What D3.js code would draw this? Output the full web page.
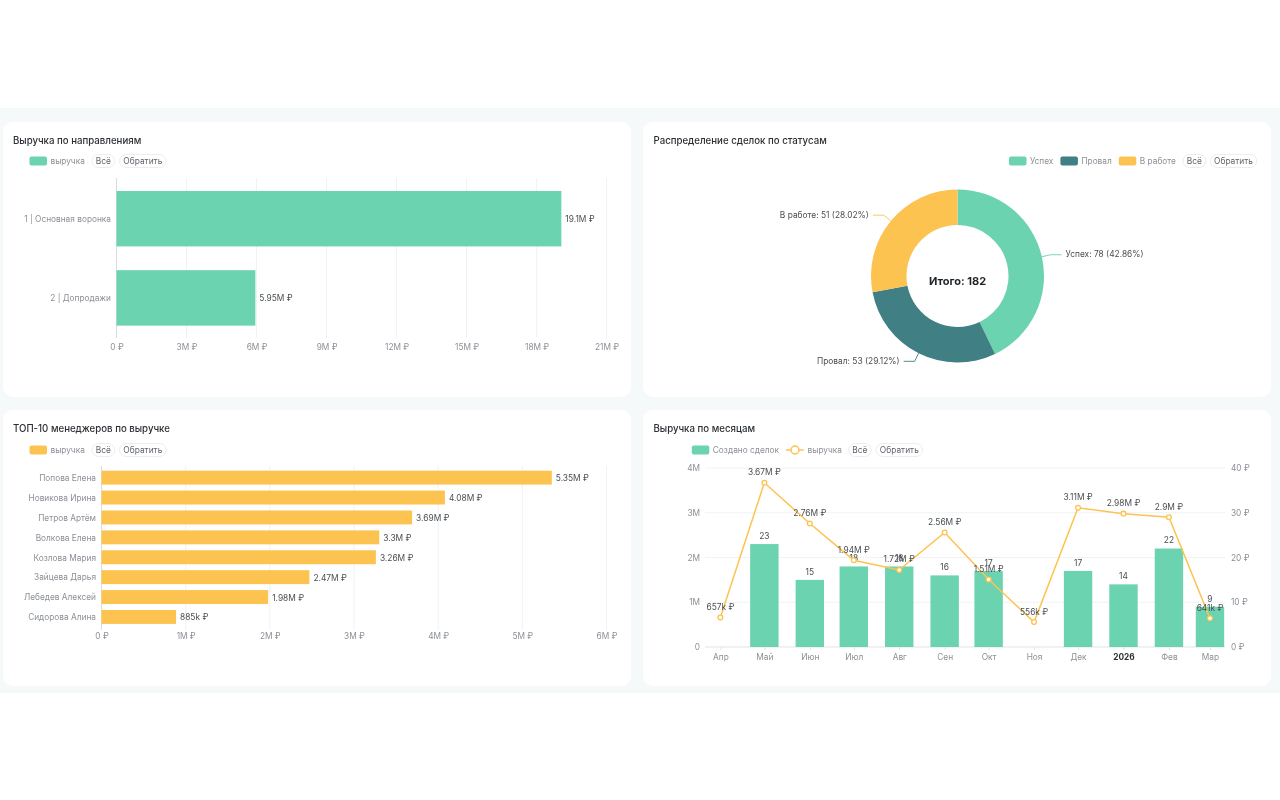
<!DOCTYPE html>
<html>
<head>
<meta charset="utf-8">
<script src="https://cdn.jsdelivr.net/npm/d3@7"></script>
<style>
  html, body { margin: 0; padding: 0; background: #fff; }
  svg { display: block; font-family: Inter, "Noto Sans", sans-serif; filter: blur(0.3px); }
  .title { font-size: 9.66px; font-weight: 500; fill: #2b2f33; }
  .legend-text { font-size: 8.3px; fill: #8b9096; }
  .btn-text { font-size: 8.4px; fill: #60656b; }
  .tick-label, .tick text { font-size: 8.3px; fill: #8b9096; font-family: Inter, "Noto Sans", sans-serif; }
  .value { font-size: 8.4px; fill: #4a4e52; }
</style>
</head>
<body>
<svg id="chart" width="1280" height="800"></svg>
<script>
// data
const directionNames = ["1 | Основная воронка", "2 | Допродажи"];
const directionRevenue = [19060000, 5950000];
const directionTicks = [0, 3e6, 6e6, 9e6, 12e6, 15e6, 18e6, 21e6];

const statusNames = ["Успех", "Провал", "В работе"];
const statusCounts = [78, 53, 51];
const statusShares = ["42.86", "29.12", "28.02"];

const managerNames = ["Попова Елена", "Новикова Ирина", "Петров Артём", "Волкова Елена",
  "Козлова Мария", "Зайцева Дарья", "Лебедев Алексей", "Сидорова Алина"];
const managerRevenue = [5350000, 4080000, 3690000, 3300000, 3260000, 2470000, 1980000, 885000];
const managerTicks = [0, 1e6, 2e6, 3e6, 4e6, 5e6, 6e6];

const monthDates = ["2025-04-01", "2025-05-01", "2025-06-01", "2025-07-01", "2025-08-01", "2025-09-01",
  "2025-10-01", "2025-11-01", "2025-12-01", "2026-01-01", "2026-02-01", "2026-03-01"].map(d => new Date(d + "T00:00:00Z"));
const monthLabels = ["Апр", "Май", "Июн", "Июл", "Авг", "Сен", "Окт", "Ноя", "Дек", "2026", "Фев", "Мар"];
const monthDeals = [null, 23, 15, 18, 18, 16, 17, null, 17, 14, 22, 9];
const monthRevenue = [657000, 3670000, 2760000, 1940000, 1720000, 2560000, 1510000, 556000, 3110000, 2980000, 2900000, 641000];
const revenueTicks = [0, 1e6, 2e6, 3e6, 4e6];
const dealTicks = [0, 10, 20, 30, 40];

const green = "#6bd3b0", teal = "#407f83", yellow = "#fdc350";
const grid = "#f0f2f4";
const money = v => v === 0 ? "0 ₽" : d3.format(".3~s")(v) + " ₽";

const svg = d3.select("#chart");

// page band and cards
svg.append("rect").attr("x", 0).attr("y", 108).attr("width", 1280).attr("height", 585).attr("fill", "#f6f9fa");
[[3, 122, 628, 275], [643, 122, 628, 275], [3, 410, 628, 276], [643, 410, 628, 276]].forEach(c => {
  svg.append("rect").attr("x", c[0]).attr("y", c[1]).attr("width", c[2]).attr("height", c[3])
    .attr("rx", 10).attr("fill", "#fff");
});

function title(x, y, text) {
  svg.append("text").attr("class", "title").attr("x", x).attr("y", y).attr("dy", "0.35em").text(text);
}
function swatch(x, y, color, label) {
  svg.append("rect").attr("x", x).attr("y", y - 4.5).attr("width", 17.5).attr("height", 9).attr("rx", 2).attr("fill", color);
  svg.append("text").attr("class", "legend-text").attr("x", x + 21).attr("y", y).attr("dy", "0.35em").text(label);
}
function buttons(x1, x2, y) {
  [[x1, 22.7, "Всё"], [x2, 46.5, "Обратить"]].forEach(b => {
    svg.append("rect").attr("x", b[0]).attr("y", y - 6.5).attr("width", b[1]).attr("height", 13).attr("rx", 6.5)
      .attr("fill", "#fff").attr("stroke", "#e6e8ea").attr("stroke-width", 0.8);
    svg.append("text").attr("class", "btn-text").attr("x", b[0] + b[1] / 2).attr("y", y).attr("dy", "0.35em")
      .attr("text-anchor", "middle").text(b[2]);
  });
}

// horizontal bars, shared by the two left panels
function hbars(o) {
  const x = d3.scaleLinear().domain([0, o.ticks[o.ticks.length - 1]]).range(o.xr);
  const y = d3.scaleBand().domain(o.names).range(o.yr).paddingInner(0.3).paddingOuter(o.outer);
  const g = svg.append("g");
  g.append("g").selectAll("line").data(o.ticks).join("line")
    .attr("x1", d => x(d)).attr("x2", d => x(d)).attr("y1", o.gy[0]).attr("y2", o.gy[1])
    .attr("stroke", d => d === 0 ? "#d9dcdf" : grid);
  g.selectAll("rect").data(o.values).join("rect")
    .attr("x", x(0)).attr("y", (d, i) => y(o.names[i]))
    .attr("width", d => x(d) - x(0)).attr("height", y.bandwidth()).attr("fill", o.color);
  g.selectAll(".value").data(o.values).join("text").attr("class", "value")
    .attr("x", d => x(d) + 4).attr("y", (d, i) => y(o.names[i]) + y.bandwidth() / 2 + 0.6).attr("dy", "0.35em")
    .text(money);
  const yAxis = g.append("g").attr("transform", `translate(${x(0)},0.6)`).call(d3.axisLeft(y).tickSize(0).tickPadding(5.5));
  yAxis.select(".domain").remove();
  const xAxis = g.append("g").attr("transform", `translate(0,${o.gy[1]})`)
    .call(d3.axisBottom(x).tickValues(o.ticks).tickFormat(money).tickSize(0).tickPadding(o.tickPad));
  xAxis.select(".domain").remove();
}

title(13, 141, "Выручка по направлениям");
swatch(29.5, 161, green, "выручка");
buttons(92, 119.6, 161);
hbars({ names: directionNames, values: directionRevenue, ticks: directionTicks, color: green,
  xr: [116.5, 606.6], yr: [178.3, 338.3], outer: 0.16, gy: [178, 338], tickPad: 6.5 });

title(13, 429, "ТОП-10 менеджеров по выручке");
swatch(29.5, 450, yellow, "выручка");
buttons(92, 119.6, 450);
hbars({ names: managerNames, values: managerRevenue, ticks: managerTicks, color: yellow,
  xr: [101.5, 606.5], yr: [467.7, 626.9], outer: 0.15, gy: [466, 630], tickPad: 3 });

// donut
title(653.5, 141, "Распределение сделок по статусам");
swatch(1009, 161, green, "Успех");
swatch(1060.4, 161, teal, "Провал");
swatch(1118.8, 161, yellow, "В работе");
buttons(1183, 1210.3, 161);

const statusColors = [green, teal, yellow];
const cx = 957.5, cy = 276, outerR = 86.5, innerR = 51;
const pieData = d3.pie().sort(null)(statusCounts);
const arc = d3.arc().innerRadius(innerR).outerRadius(outerR);
const donut = svg.append("g").attr("transform", `translate(${cx},${cy})`);
donut.selectAll("path.slice").data(pieData).join("path").attr("class", "slice").attr("d", arc)
  .attr("fill", (d, i) => statusColors[i]);
pieData.forEach((d, i) => {
  const a = (d.startAngle + d.endAngle) / 2;
  const px = r => Math.sin(a) * r, py = r => -Math.cos(a) * r;
  const dir = px(1) > 0 ? 1 : -1;
  const bend = [px(outerR + 9), py(outerR + 9)];
  const end = [bend[0] + dir * 11, bend[1]];
  donut.append("polyline").attr("fill", "none").attr("stroke", statusColors[i]).attr("stroke-width", 0.9)
    .attr("points", [[px(outerR), py(outerR)], bend, end].join(" "));
  donut.append("text").attr("class", "value").attr("x", end[0] + dir * 4).attr("y", end[1] - 0.6).attr("dy", "0.35em")
    .attr("text-anchor", dir > 0 ? "start" : "end")
    .text(`${statusNames[i]}: ${statusCounts[i]} (${statusShares[i]}%)`);
});
svg.append("text").attr("x", cx).attr("y", 281).attr("dy", "0.35em").attr("text-anchor", "middle")
  .attr("font-size", 11).attr("font-weight", 700).attr("fill", "#1f2326")
  .text("Итого: " + d3.sum(statusCounts));

// monthly combo: bars on the right axis, line on the left one
title(653.5, 429, "Выручка по месяцам");
swatch(691.8, 450, green, "Создано сделок");
svg.append("line").attr("x1", 786).attr("x2", 803.7).attr("y1", 450).attr("y2", 450).attr("stroke", yellow).attr("stroke-width", 1.5);
svg.append("circle").attr("cx", 795).attr("cy", 450).attr("r", 4).attr("fill", "#fff").attr("stroke", yellow).attr("stroke-width", 1.5);
svg.append("text").attr("class", "legend-text").attr("x", 807.6).attr("y", 450).attr("dy", "0.35em").text("выручка");
buttons(848.6, 876.1, 450);

const mx = d3.scaleUtc().domain([new Date("2025-03-21T12:00:00Z"), new Date("2026-03-11T06:00:00Z")]).range([705, 1225]);
const yRev = d3.scaleLinear().domain([0, 4e6]).range([647, 468]);
const yDeals = d3.scaleLinear().domain([0, 40]).range([647, 468]);
const combo = svg.append("g");

combo.append("g").selectAll("line").data(revenueTicks).join("line")
  .attr("x1", 705).attr("x2", 1225).attr("y1", d => yRev(d)).attr("y2", d => yRev(d))
  .attr("stroke", d => d === 0 ? "#dfe3e7" : grid);

const leftAxis = combo.append("g").attr("transform", "translate(705,0)")
  .call(d3.axisLeft(yRev).tickValues(revenueTicks).tickFormat(d => d === 0 ? "0" : d3.format("~s")(d)).tickSize(0).tickPadding(5));
leftAxis.select(".domain").remove();
const rightAxis = combo.append("g").attr("transform", "translate(1225,0)")
  .call(d3.axisRight(yDeals).tickValues(dealTicks).tickFormat(d => d + " ₽").tickSize(0).tickPadding(6));
rightAxis.select(".domain").remove();
const bottomAxis = combo.append("g").attr("transform", "translate(0,647)")
  .call(d3.axisBottom(mx).tickValues(monthDates).tickFormat((d, i) => monthLabels[i]).tickSize(3).tickPadding(4));
bottomAxis.select(".domain").remove();
bottomAxis.selectAll("line").attr("stroke", "#dfe3e7");
bottomAxis.selectAll("text").filter((d, i) => monthLabels[i] === "2026")
  .style("font-weight", 700).style("fill", "#2b2f33");

const barW = 28.4;
const dealRows = monthDeals.map((v, i) => ({ v, d: monthDates[i] })).filter(r => r.v !== null);
combo.append("g").selectAll("rect").data(dealRows).join("rect")
  .attr("x", r => mx(r.d) - barW / 2).attr("y", r => yDeals(r.v))
  .attr("width", barW).attr("height", r => yDeals(0) - yDeals(r.v)).attr("fill", green);
combo.append("g").selectAll("text").data(dealRows).join("text").attr("class", "value")
  .attr("x", r => mx(r.d)).attr("y", r => yDeals(r.v) - 8).attr("dy", "0.35em").attr("text-anchor", "middle")
  .text(r => r.v);

const line = d3.line().x((d, i) => mx(monthDates[i])).y(d => yRev(d));
combo.append("path").attr("d", line(monthRevenue)).attr("fill", "none").attr("stroke", yellow).attr("stroke-width", 1.5);
combo.append("g").selectAll("circle").data(monthRevenue).join("circle")
  .attr("cx", (d, i) => mx(monthDates[i])).attr("cy", d => yRev(d)).attr("r", 2.4)
  .attr("fill", "#fff").attr("stroke", yellow).attr("stroke-width", 1.3);
combo.append("g").selectAll("text").data(monthRevenue).join("text").attr("class", "value")
  .attr("x", (d, i) => mx(monthDates[i])).attr("y", d => yRev(d) - 10.5).attr("dy", "0.35em").attr("text-anchor", "middle")
  .text(money);
</script>
</body>
</html>
